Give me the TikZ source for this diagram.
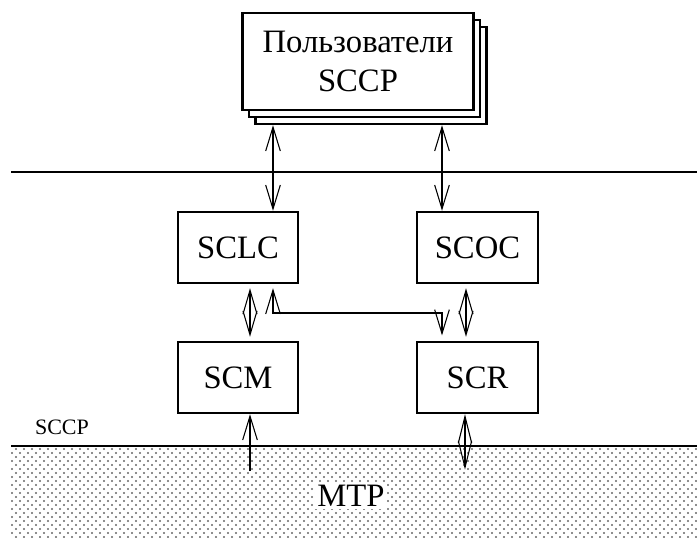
\documentclass[tikz,border=0pt]{standalone}
\usepackage{fontspec}
\setmainfont{Liberation Serif}
\usetikzlibrary{arrows.meta,patterns.meta,calc}

\pgfdeclarepattern{
  name=mtpdots, type=uncolored,
  bottom left={\pgfpoint{-1pt}{-1pt}}, top right={\pgfpoint{5pt}{5pt}},
  tile size={\pgfpoint{6pt}{6pt}},
  code={
    \pgfpathcircle{\pgfpointorigin}{0.85pt}
    \pgfpathcircle{\pgfpoint{3pt}{3pt}}{0.85pt}
    \pgfusepath{fill}
  }
}

\tikzset{
  vtip/.tip={Straight Barb[length=18pt,width=11pt]},
  dtip/.tip={Straight Barb[length=18pt,width=10.5pt]},
  blockbox/.style={draw, line width=1.8pt, fill=white, inner sep=0pt,
    minimum width=90pt, minimum height=53.25pt,
    font=\fontsize{24.5}{29}\selectfont},
  userbox/.style={blockbox, minimum width=173.25pt, minimum height=72.75pt, align=center,
    font=\fontsize{24.5}{29}\selectfont},
  layerline/.style={line width=1.8pt},
  link/.style={line width=0.8pt},
  biarrow/.style={link, {vtip}-{vtip}},
  diamondlink/.style={link, {dtip}-{dtip}, shorten <=3pt, shorten >=3pt},
}

\begin{document}
\begin{tikzpicture}[x=0.75pt,y=-0.75pt]
	%%%%% START %%%%%
	\useasboundingbox (0,0) rectangle (697,537);
	
	% MTP layer
	\fill[pattern=mtpdots, pattern color=black!60] (11,446) rectangle (697,537);
	\draw[layerline] (11,446) -- (697,446);
	\draw[layerline] (11,172) -- (697,172);
	\node[fill=white, inner sep=2pt, font=\fontsize{24.5}{29}\selectfont] (mtp) at (351,496) {MTP};
	\node[font=\fontsize{16.5}{19}\selectfont] (sccp) at (62,427) {SCCP};
	
	% users of SCCP (stacked)
	\node[userbox] (users3) at (371,75.5) {};
	\node[userbox] (users2) at (364.5,68.5) {};
	\node[userbox] (users) at (358,61.5) {Пользователи\\SCCP};
	
	% SCCP blocks
	\node[blockbox] (sclc) at (238,247.5) {SCLC};
	\node[blockbox, minimum width=90.75pt] (scoc) at (477.5,247.5) {SCOC};
	\node[blockbox] (scm) at (238,377.5) {SCM};
	\node[blockbox, minimum width=90.75pt] (scr) at (477.5,377.5) {SCR};
	
	\coordinate (xa) at (250,0);
	\coordinate (xb) at (273,0);
	\coordinate (xc) at (442,0);
	\coordinate (xd) at (466,0);
	\coordinate (bend) at (442,313);
	\coordinate (m1) at (250,471);
	\coordinate (m2) at (465,471);
	
	% connectors
	\draw[biarrow] (users3.south -| xb) -- (sclc.north -| xb);
	\draw[biarrow] (users3.south -| xc) -- (scoc.north -| xc);
	\draw[diamondlink] (sclc.south -| xa) -- (scm.north -| xa);
	\draw[diamondlink] (scoc.south -| xd) -- (scr.north -| xd);
	\draw[biarrow, shorten <=3pt, shorten >=4pt] (sclc.south -| xb) |- (bend) -- (scr.north -| xc);
	\draw[link, -{vtip}] (m1) -- (scm.south -| m1);
	\draw[link, {dtip[length=20pt,width=10pt]}-{dtip[length=20pt,width=10pt]}, shorten >=1pt] (scr.south -| m2) -- (m2);
	
	%%%%% END %%%%%
\end{tikzpicture}
\end{document}
